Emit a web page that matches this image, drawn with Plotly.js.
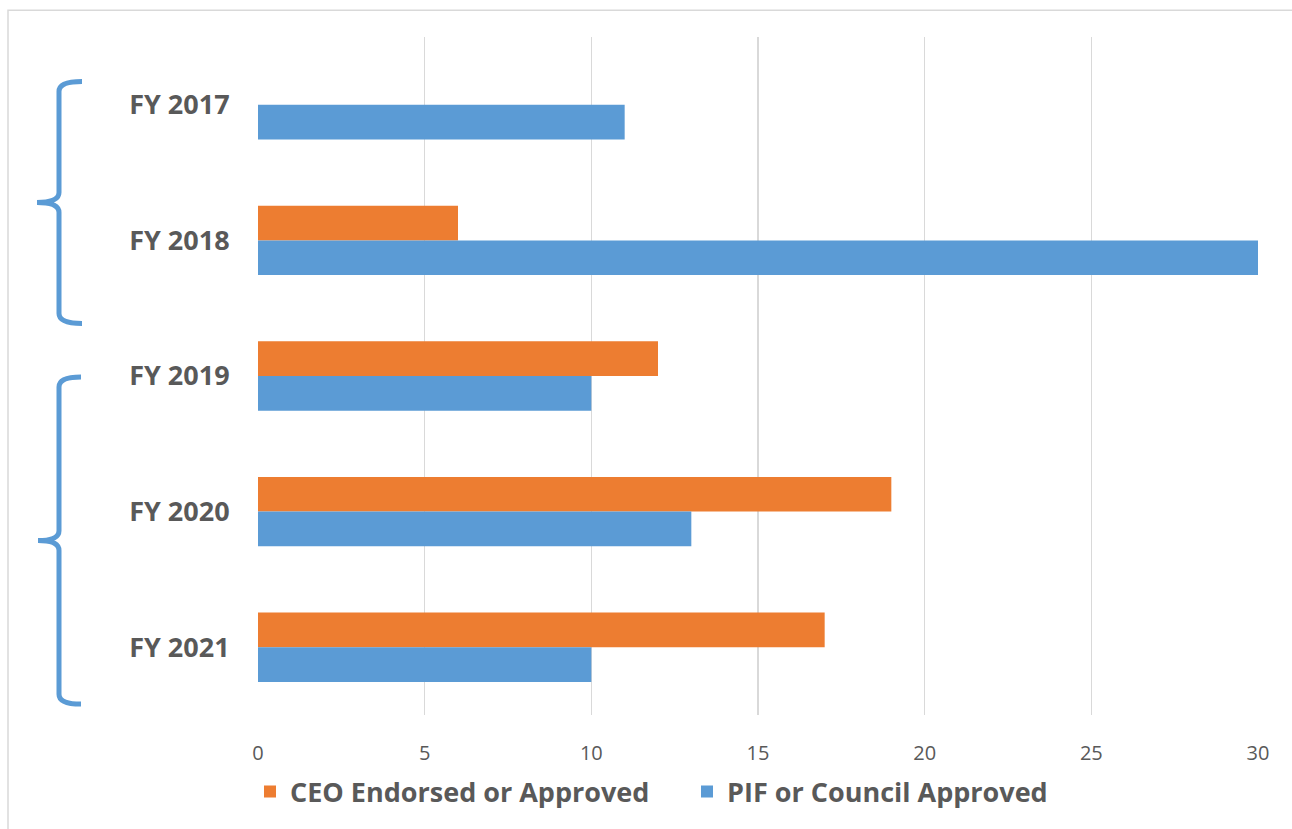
<!DOCTYPE html>
<html>
<head>
<meta charset="utf-8">
<script src="https://cdn.plot.ly/plotly-3.0.1.min.js"></script>
<style>
html,body{margin:0;padding:0;background:#fff;}
#chart{width:1292px;height:829px;}
</style>
</head>
<body>
<div id="chart"></div>
<script>
const categories = ["FY 2017", "FY 2018", "FY 2019", "FY 2020", "FY 2021"];
const ceoEndorsed = [0, 6, 12, 19, 17];
const pifApproved = [11, 30, 10, 13, 10];
const seriesNames = ["CEO Endorsed or Approved", "PIF or Council Approved"];
const xTicks = [0, 5, 10, 15, 20, 25, 30];

const W = 1292, H = 829;
const M = {l: 258, r: 34, t: 37, b: 108};
const PW = W - M.l - M.r, PH = H - M.t - M.b;
const px = X => (X - M.l) / PW;
const py = Y => (H - M.b - Y) / PH;

function brace(xEnd, xV, xTip, yTop, yMid, yBot) {
  const r = 10;
  const P = (X, Y) => px(X).toFixed(5) + ',' + py(Y).toFixed(5);
  return 'M ' + P(xEnd, yTop) +
    ' Q ' + P(xV, yTop) + ' ' + P(xV, yTop + r) +
    ' L ' + P(xV, yMid - r) +
    ' Q ' + P(xV, yMid) + ' ' + P(xTip, yMid) +
    ' Q ' + P(xV, yMid) + ' ' + P(xV, yMid + r) +
    ' L ' + P(xV, yBot - r) +
    ' Q ' + P(xV, yBot) + ' ' + P(xEnd, yBot);
}

const font = '"Open Sans", "Liberation Sans", sans-serif';
const grey = '#595959';

const traces = [
  {type: 'bar', orientation: 'h', name: seriesNames[0], y: categories, x: ceoEndorsed,
   marker: {color: '#ED7D31'}},
  {type: 'bar', orientation: 'h', name: seriesNames[1], y: categories, x: pifApproved,
   marker: {color: '#5B9BD5'}}
];

const layout = {
  width: W, height: H,
  margin: M,
  paper_bgcolor: '#fff', plot_bgcolor: '#fff',
  barmode: 'group', bargap: 0.488, bargroupgap: 0,
  showlegend: true,
  legend: {orientation: 'h', x: px(250), y: py(774), xanchor: 'left', yanchor: 'top',
    traceorder: 'normal', entrywidth: 392, entrywidthmode: 'pixels',
    font: {family: font, size: 27, color: grey, weight: 'bold'}},
  xaxis: {range: [0, 30], tickvals: xTicks, showgrid: true, gridcolor: '#d9d9d9', gridwidth: 1.5,
    zeroline: false, showline: false, ticks: 'outside', ticklen: 20, tickcolor: 'rgba(0,0,0,0)',
    tickfont: {family: font, size: 20, color: grey}, fixedrange: true},
  yaxis: {type: 'category', autorange: 'reversed', showgrid: false, zeroline: false, showline: false,
    ticks: 'outside', ticklen: 22, tickcolor: 'rgba(0,0,0,0)',
    tickfont: {family: font, size: 27, color: grey, weight: 'bold'}},
  shapes: [
    {type: 'rect', xref: 'paper', yref: 'paper', x0: px(8), x1: px(1300), y0: py(840), y1: py(10),
     line: {color: '#d9d9d9', width: 1.5}, fillcolor: 'rgba(0,0,0,0)', layer: 'below'},
    {type: 'path', xref: 'paper', yref: 'paper', path: brace(82, 59, 37, 82, 204, 326),
     line: {color: '#5B9BD5', width: 5}},
    {type: 'path', xref: 'paper', yref: 'paper', path: brace(81, 59, 38, 380, 545, 710),
     line: {color: '#5B9BD5', width: 5}}
  ]
};

Plotly.newPlot('chart', traces, layout, {displayModeBar: false, staticPlot: true});
</script>
</body>
</html>
